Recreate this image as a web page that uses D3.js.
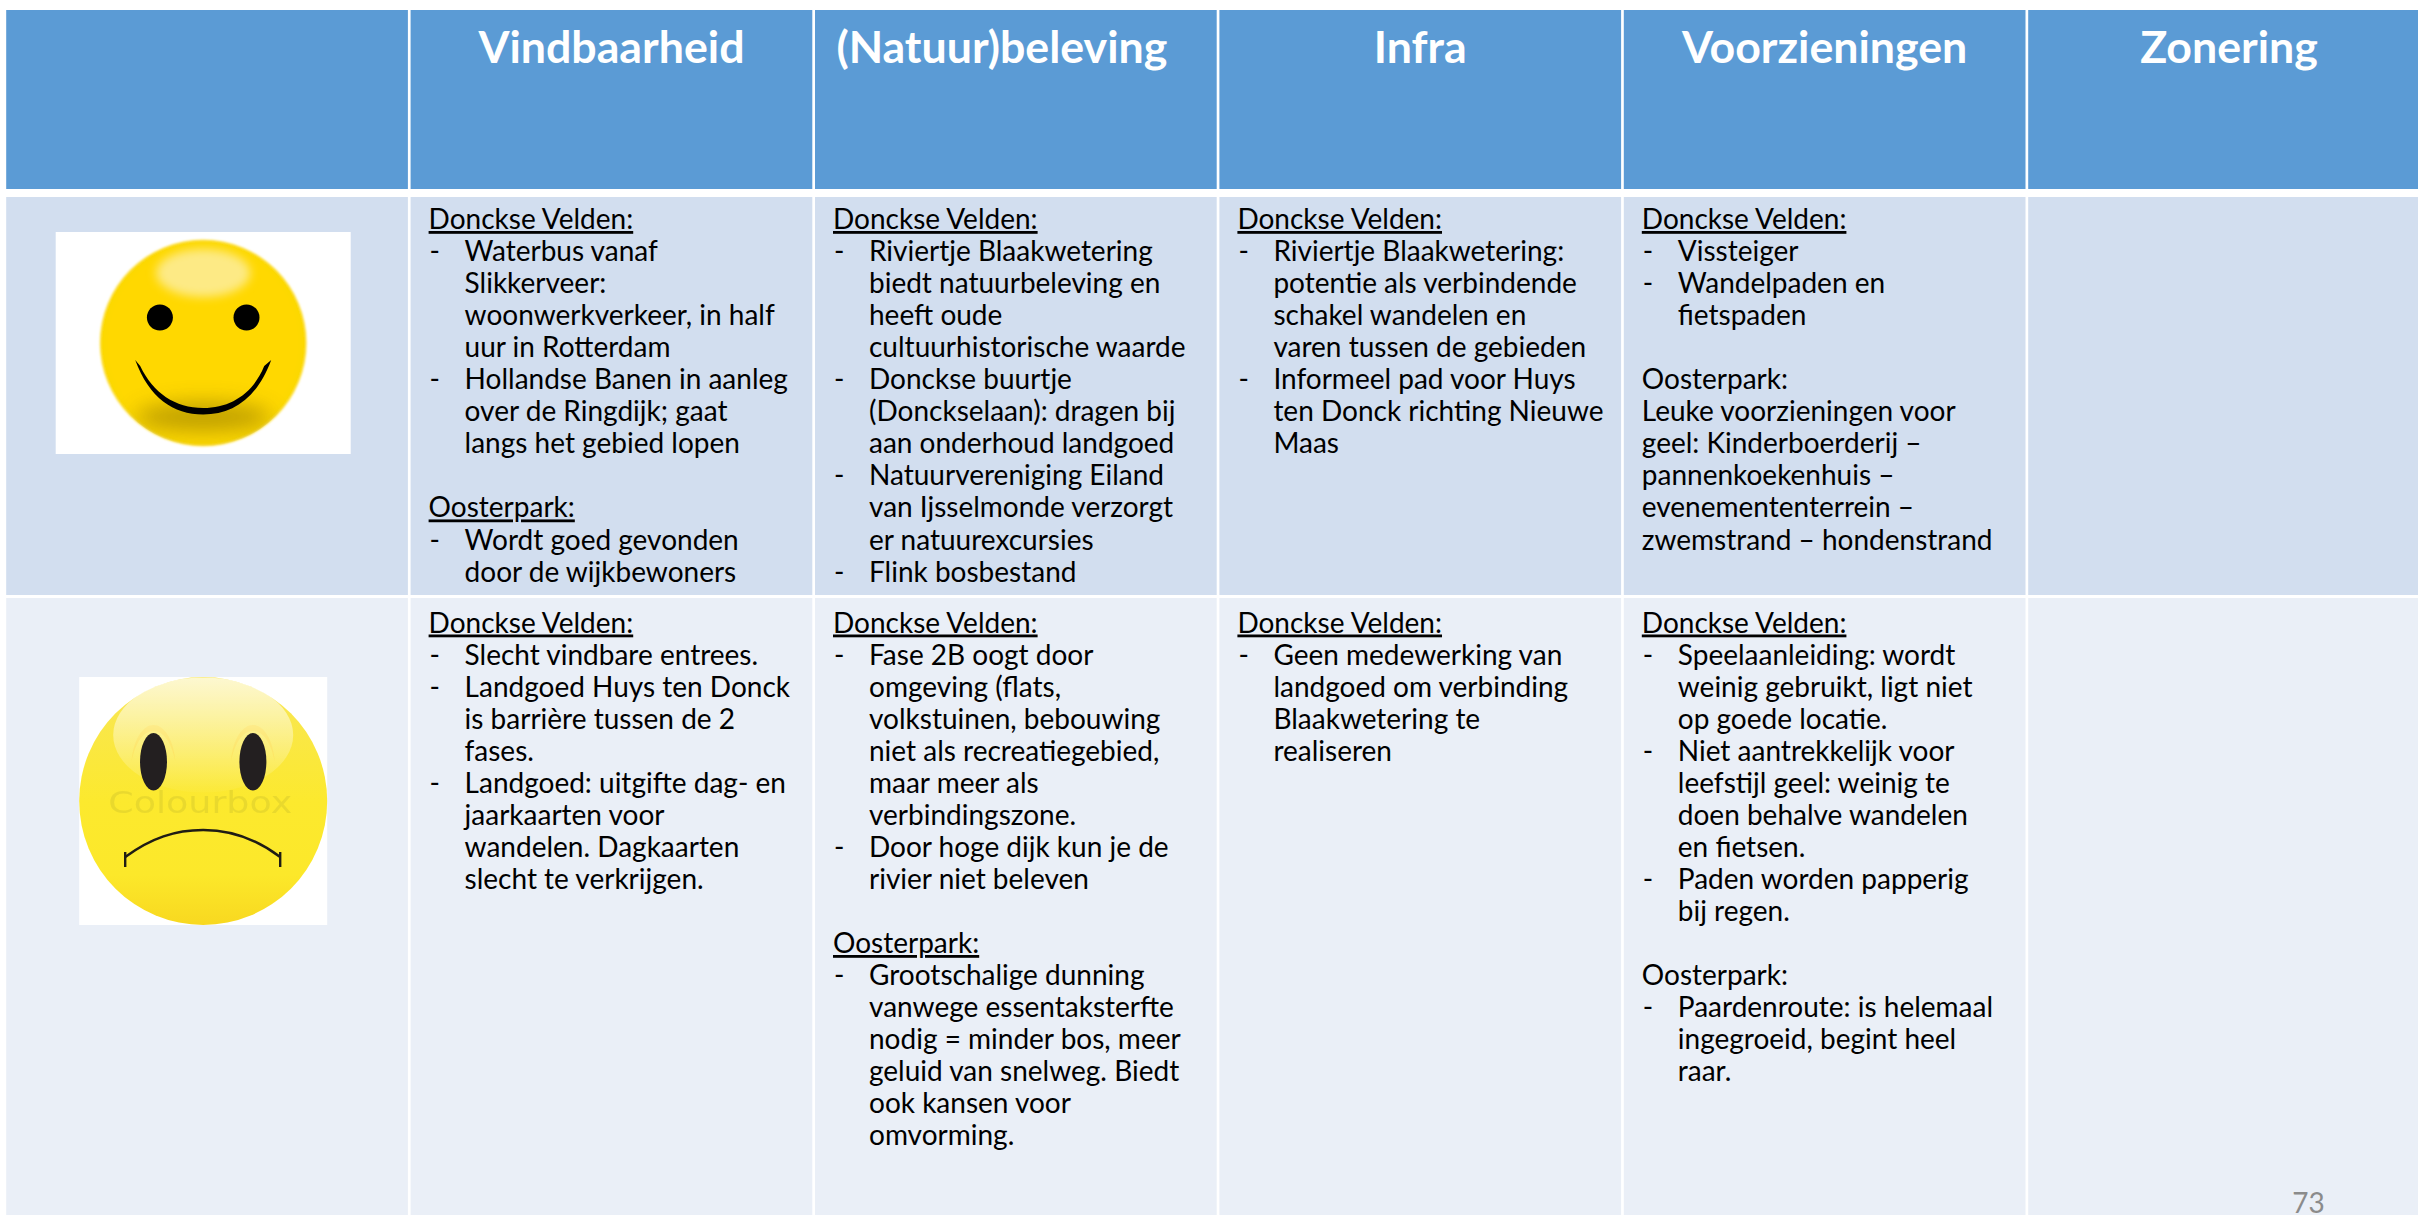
<!DOCTYPE html>
<html>
<head>
<meta charset="utf-8">
<title>Tabel</title>
<script src="https://cdn.jsdelivr.net/npm/d3@7"></script>
<style>
  html, body { margin: 0; background: #fff; overflow: hidden; }
  text { font-family: Lato, "Open Sans", sans-serif; }
</style>
</head>
<body>
<div id="table"></div>
<script>
// column and row names
const columns = ["", "Vindbaarheid", "(Natuur)beleving", "Infra", "Voorzieningen", "Zonering"];
const rows = ["header", "goed", "slecht"];
const pageNumber = "73";

// cell texts: "_" = underlined heading, "- " = new bullet, "  " = bullet continuation
const goedVindbaarheid = ["_Donckse Velden:", "- Waterbus vanaf", "  Slikkerveer:", "  woonwerkverkeer, in half", "  uur in Rotterdam", "- Hollandse Banen in aanleg", "  over de Ringdijk; gaat", "  langs het gebied lopen", "", "_Oosterpark:", "- Wordt goed gevonden", "  door de wijkbewoners"];
const goedBeleving = ["_Donckse Velden:", "- Riviertje Blaakwetering", "  biedt natuurbeleving en", "  heeft oude", "  cultuurhistorische waarde", "- Donckse buurtje", "  (Donckselaan): dragen bij", "  aan onderhoud landgoed", "- Natuurvereniging Eiland", "  van Ijsselmonde verzorgt", "  er natuurexcursies", "- Flink bosbestand"];
const goedInfra = ["_Donckse Velden:", "- Riviertje Blaakwetering:", "  potentie als verbindende", "  schakel wandelen en", "  varen tussen de gebieden", "- Informeel pad voor Huys", "  ten Donck richting Nieuwe", "  Maas"];
const goedVoorzieningen = ["_Donckse Velden:", "- Vissteiger", "- Wandelpaden en", "  fietspaden", "", "Oosterpark:", "Leuke voorzieningen voor", "geel: Kinderboerderij –", "pannenkoekenhuis –", "evenemententerrein –", "zwemstrand – hondenstrand"];

const slechtVindbaarheid = ["_Donckse Velden:", "- Slecht vindbare entrees.", "- Landgoed Huys ten Donck", "  is barrière tussen de 2", "  fases.", "- Landgoed: uitgifte dag- en", "  jaarkaarten voor", "  wandelen. Dagkaarten", "  slecht te verkrijgen."];
const slechtBeleving = ["_Donckse Velden:", "- Fase 2B oogt door", "  omgeving (flats,", "  volkstuinen, bebouwing", "  niet als recreatiegebied,", "  maar meer als", "  verbindingszone.", "- Door hoge dijk kun je de", "  rivier niet beleven", "", "_Oosterpark:", "- Grootschalige dunning", "  vanwege essentaksterfte", "  nodig = minder bos, meer", "  geluid van snelweg. Biedt", "  ook kansen voor", "  omvorming."];
const slechtInfra = ["_Donckse Velden:", "- Geen medewerking van", "  landgoed om verbinding", "  Blaakwetering te", "  realiseren"];
const slechtVoorzieningen = ["_Donckse Velden:", "- Speelaanleiding: wordt", "  weinig gebruikt, ligt niet", "  op goede locatie.", "- Niet aantrekkelijk voor", "  leefstijl geel: weinig te", "  doen behalve wandelen", "  en fietsen.", "- Paden worden papperig", "  bij regen.", "", "Oosterpark:", "- Paardenroute: is helemaal", "  ingegroeid, begint heel", "  raar."];

const cells = [
  {row: "goed", col: "Vindbaarheid", lines: goedVindbaarheid},
  {row: "goed", col: "(Natuur)beleving", lines: goedBeleving},
  {row: "goed", col: "Infra", lines: goedInfra},
  {row: "goed", col: "Voorzieningen", lines: goedVoorzieningen},
  {row: "slecht", col: "Vindbaarheid", lines: slechtVindbaarheid},
  {row: "slecht", col: "(Natuur)beleving", lines: slechtBeleving},
  {row: "slecht", col: "Infra", lines: slechtInfra},
  {row: "slecht", col: "Voorzieningen", lines: slechtVoorzieningen}
];

const width = 2418;
const height = 1215;

const svg = d3.select("#table")
  .append("svg")
  .attr("width", width)
  .attr("height", height)
  .attr("viewBox", [0, 0, width, height])
  .style("display", "block");

// columns are equal width, the last one runs off the slide
const columnStep = 404.4;
const gap = 2.7;
const xScale = d3.scaleBand()
  .domain(columns)
  .range([6.2, 6.2 + columnStep * columns.length]);

// rows differ in height
const yTop = d3.scaleOrdinal().domain(rows).range([10, 197, 598]);
const yBottom = d3.scaleOrdinal().domain(rows).range([189, 595, 1215]);
const rowFill = d3.scaleOrdinal().domain(rows).range(["#5b9bd5", "#d2deef", "#eaeff7"]);

// table background cells
const rowGroups = svg.selectAll("g.row")
  .data(rows)
  .join("g")
  .attr("class", "row");

rowGroups.selectAll("rect")
  .data(r => columns.map(c => ({r, c})))
  .join("rect")
  .attr("x", d => xScale(d.c))
  .attr("y", d => yTop(d.r))
  .attr("width", xScale.bandwidth() - gap)
  .attr("height", d => yBottom(d.r) - yTop(d.r))
  .attr("fill", d => rowFill(d.r));

// header labels, the (Natuur)beleving one sits a bit left of centre in the slide
svg.selectAll("text.head")
  .data(columns.filter(c => c))
  .join("text")
  .attr("class", "head")
  .attr("x", d => xScale(d) + (xScale.bandwidth() - gap) / 2 - (d.startsWith("(") ? 14 : 0))
  .attr("y", 63)
  .attr("text-anchor", "middle")
  .attr("fill", "#fff")
  .attr("font-size", 44.7)
  .attr("font-weight", 700)
  .text(d => d);

// cell text, one text element per line
const lineHeight = 32.05;
const bodySize = 28;
const firstBaseline = d3.scaleOrdinal().domain(rows).range([0, 229, 632.5]);

const cellGroups = svg.selectAll("g.cell")
  .data(cells)
  .join("g")
  .attr("class", "cell")
  .attr("transform", d => `translate(${xScale(d.col)}, ${firstBaseline(d.row)})`);

cellGroups.each(function(d) {
  const g = d3.select(this);
  d.lines.forEach((line, i) => {
    if (!line) return;
    const y = i * lineHeight;
    const isHead = line.startsWith("_");
    const isBullet = line.startsWith("- ");
    const isCont = line.startsWith("  ");
    if (isBullet) {
      g.append("text").attr("x", 19).attr("y", y)
        .attr("font-size", bodySize).attr("fill", "#000").text("-");
    }
    g.append("text")
      .attr("x", isBullet || isCont ? 54 : 18)
      .attr("y", y)
      .attr("font-size", bodySize)
      .attr("fill", "#000")
      .attr("text-decoration", isHead ? "underline" : null)
      .text(isHead ? line.slice(1) : isBullet || isCont ? line.slice(2) : line);
  });
});

// gradients and blurs for the two faces
const defs = svg.append("defs");

const happyFill = defs.append("radialGradient").attr("id", "happyEdge");
happyFill.append("stop").attr("offset", 0.9).attr("stop-color", "#ffd800");
happyFill.append("stop").attr("offset", 0.98).attr("stop-color", "#fcd800");
happyFill.append("stop").attr("offset", 1).attr("stop-color", "#fde45a");

const shadowBlur = defs.append("filter").attr("id", "shadowBlur")
  .attr("x", "-40%").attr("y", "-80%").attr("width", "180%").attr("height", "260%");
shadowBlur.append("feGaussianBlur").attr("stdDeviation", 10);

const shineBlur = defs.append("filter").attr("id", "shineBlur")
  .attr("x", "-30%").attr("y", "-50%").attr("width", "160%").attr("height", "200%");
shineBlur.append("feGaussianBlur").attr("stdDeviation", 5);

const edge = defs.append("filter").attr("id", "softEdge");
edge.append("feGaussianBlur").attr("stdDeviation", 0.8);

const sadFill = defs.append("linearGradient").attr("id", "sadFill")
  .attr("x1", 0).attr("x2", 0).attr("y1", 0).attr("y2", 1);
sadFill.append("stop").attr("offset", 0).attr("stop-color", "#f8e658");
sadFill.append("stop").attr("offset", 0.5).attr("stop-color", "#fce92e");
sadFill.append("stop").attr("offset", 0.8).attr("stop-color", "#fce82a");
sadFill.append("stop").attr("offset", 1).attr("stop-color", "#f8d820");

const sadGloss = defs.append("linearGradient").attr("id", "sadGloss")
  .attr("x1", 0).attr("x2", 0).attr("y1", 0).attr("y2", 1);
sadGloss.append("stop").attr("offset", 0).attr("stop-color", "#fff").attr("stop-opacity", 0.72);
sadGloss.append("stop").attr("offset", 1).attr("stop-color", "#fff").attr("stop-opacity", 0.03);

defs.append("clipPath").attr("id", "happyClip")
  .append("ellipse").attr("rx", 103).attr("ry", 103);

// both pictures are centred a little left of the first column's centre
const faceX = xScale("") + 197;

// happy face
const happy = svg.append("g").attr("transform", `translate(${faceX}, 343)`);
happy.append("rect").attr("x", -147.5).attr("y", -111).attr("width", 295).attr("height", 222).attr("fill", "#fff");
happy.append("ellipse").attr("rx", 103.5).attr("ry", 103.5).attr("fill", "url(#happyEdge)").attr("filter", "url(#softEdge)");
const happyInner = happy.append("g").attr("clip-path", "url(#happyClip)");
happyInner.append("ellipse").attr("cy", 74).attr("rx", 68).attr("ry", 15)
  .attr("fill", "#bb9c00").attr("opacity", 0.9).attr("filter", "url(#shadowBlur)");
happyInner.append("ellipse").attr("cy", -70).attr("rx", 47).attr("ry", 24)
  .attr("fill", "#fdea85").attr("filter", "url(#shineBlur)");
happy.selectAll("ellipse.eye")
  .data([-43.3, 43.3])
  .join("ellipse")
  .attr("class", "eye")
  .attr("cx", d => d).attr("cy", -25.5).attr("rx", 13).attr("ry", 13)
  .attr("fill", "#000");
happy.append("path")
  .attr("d", "M-68,17 C-54,55 -30,71.5 0,71.5 C30,71.5 54,55 68,17 L61,23 C50,50 28,65 0,65 C-28,65 -50,50 -63,23 Z")
  .attr("fill", "#000");

// sad face
const sad = svg.append("g").attr("transform", `translate(${faceX}, 801)`);
sad.append("rect").attr("x", -124).attr("y", -124).attr("width", 248).attr("height", 248).attr("fill", "#fff");
sad.append("ellipse").attr("rx", 124).attr("ry", 124).attr("fill", "url(#sadFill)");
sad.selectAll("path.brow")
  .data([-49.7, 49.7])
  .join("path")
  .attr("class", "brow")
  .attr("transform", d => `translate(${d}, -39)`)
  .attr("d", "M-22,0 C-20,-24 -10,-37 0,-37 C10,-37 20,-24 22,0 C18,-20 10,-31 0,-31 C-10,-31 -18,-20 -22,0 Z")
  .attr("fill", "#fcdc30");
sad.append("ellipse").attr("cy", -66).attr("rx", 90).attr("ry", 57.5).attr("fill", "url(#sadGloss)");
sad.selectAll("ellipse.eye")
  .data([-49.7, 49.7])
  .join("ellipse")
  .attr("class", "eye")
  .attr("cx", d => d).attr("cy", -39.3).attr("rx", 13.5).attr("ry", 28.7)
  .attr("fill", "#231f20");
sad.append("text")
  .attr("x", -95).attr("y", 12)
  .attr("textLength", 184)
  .attr("lengthAdjust", "spacingAndGlyphs")
  .style("font-family", "'DejaVu Sans'")
  .attr("font-size", 30)
  .attr("fill", "#cfc22c")
  .attr("opacity", 0.4)
  .text("Colourbox");
sad.append("path")
  .attr("d", "M-78,56 C-52,37 -28,29 0,29 C28,29 52,37 77,56")
  .attr("fill", "none").attr("stroke", "#1f1c14").attr("stroke-width", 2.6);
sad.selectAll("line.tick")
  .data([-78, 77])
  .join("line")
  .attr("class", "tick")
  .attr("x1", d => d).attr("x2", d => d).attr("y1", 51).attr("y2", 66)
  .attr("stroke", "#1f1c14").attr("stroke-width", 2.4);

// slide number
svg.append("text")
  .attr("x", 2308.5)
  .attr("y", 1213)
  .attr("text-anchor", "middle")
  .attr("font-size", 28)
  .attr("fill", "#8b8b8b")
  .text(pageNumber);
</script>
</body>
</html>
